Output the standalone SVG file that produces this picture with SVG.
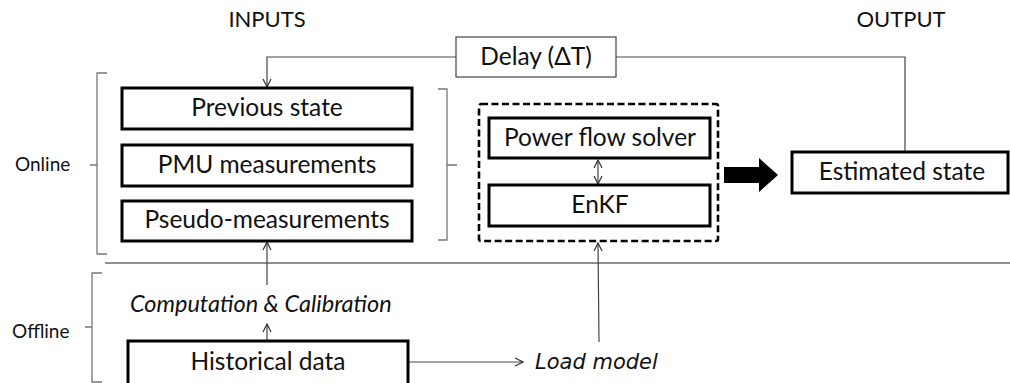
<svg xmlns="http://www.w3.org/2000/svg" width="1010" height="383" viewBox="0 0 1010 383">
<style>
text{font-family:Lato,"Open Sans","Liberation Sans",sans-serif;fill:#111;}
.t{font-size:24.5px;text-anchor:middle;}
.h{font-size:22px;text-anchor:middle;}
.s{font-size:19px;}
.i{font-size:23.5px;font-style:italic;}
.lm{font-family:"DejaVu Sans",Verdana,sans-serif;font-size:21px;font-style:italic;}
.box{fill:#fff;stroke:#000;stroke-width:3;}
.thin{fill:#fff;stroke:#444;stroke-width:1.2;}
.ln{fill:none;stroke:#444;stroke-width:1.2;}
.br{fill:none;stroke:#777;stroke-width:1.3;}
</style>
<defs>
<marker id="op" viewBox="0 0 10 10" refX="9" refY="5" markerWidth="10" markerHeight="10" markerUnits="userSpaceOnUse" orient="auto-start-reverse">
<path d="M1,1 L9,5 L1,9" fill="none" stroke="#333" stroke-width="1.2"/>
</marker>
</defs>
<text class="h" x="267" y="27">INPUTS</text>
<text class="h" x="901" y="27">OUTPUT</text>
<text class="s" x="15" y="171">Online</text>
<text class="s" x="12" y="338">Offline</text>
<g id="brackets">
<path class="br" d="M107,73 L97,73 L97,254 L107,254 M90,165 L97,165"/>
<path class="br" d="M438,89 L447,89 L447,240 L438,240 M447,165 L457,165"/>
<path class="br" d="M102,273 L92,273 L92,382 L102,382 M85,327 L92,327"/>
<line x1="105" y1="263" x2="1010" y2="263" stroke="#222" stroke-width="1.2"/>
</g>
<g id="connectors">
<path class="ln" d="M456,57 L267,57 L267,87" marker-end="url(#op)"/>
<path class="ln" d="M616,57 L905,57 L905,151"/>
<line class="ln" x1="598" y1="160" x2="598" y2="184" marker-start="url(#op)" marker-end="url(#op)"/>
<line class="ln" x1="267" y1="285" x2="267" y2="242" marker-end="url(#op)"/>
<line class="ln" x1="267" y1="340" x2="267" y2="324" marker-end="url(#op)"/>
<line class="ln" x1="408" y1="362" x2="523" y2="362" marker-end="url(#op)"/>
<line class="ln" x1="599" y1="342" x2="598" y2="243" marker-end="url(#op)"/>
<path d="M724,167 L759,167 L759,158 L778,175 L759,192 L759,183 L724,183 Z" fill="#000"/>
</g>
<g id="delay"><rect class="thin" x="456" y="37" width="160" height="40"/><text class="t" x="536" y="65">Delay (ΔT)</text></g>
<g id="prev"><rect class="box" x="122" y="88" width="290" height="41"/><text class="t" x="267" y="116">Previous state</text></g>
<g id="pmu"><rect class="box" x="122" y="145" width="290" height="41"/><text class="t" x="267" y="173">PMU measurements</text></g>
<g id="pseudo"><rect class="box" x="122" y="201" width="290" height="40"/><text class="t" x="267" y="228">Pseudo-measurements</text></g>
<g id="estimator"><rect x="479" y="104" width="239" height="137" rx="2" fill="none" stroke="#000" stroke-width="2.6" stroke-dasharray="7,3.5"/></g>
<g id="pfs"><rect class="box" x="489" y="118" width="221" height="40"/><text class="t" x="600" y="146">Power flow solver</text></g>
<g id="enkf"><rect class="box" x="489" y="185" width="221" height="41"/><text class="t" x="600" y="213">EnKF</text></g>
<g id="est"><rect class="box" x="792" y="152" width="216" height="41"/><text class="t" x="902" y="180">Estimated state</text></g>
<g id="comp"><text class="i" x="130" y="312">Computation &amp; Calibration</text></g>
<g id="hist"><rect class="box" x="128" y="341" width="280" height="46"/><text class="t" x="268" y="370">Historical data</text></g>
<g id="load"><text class="lm" x="535" y="369">Load model</text></g>
</svg>
